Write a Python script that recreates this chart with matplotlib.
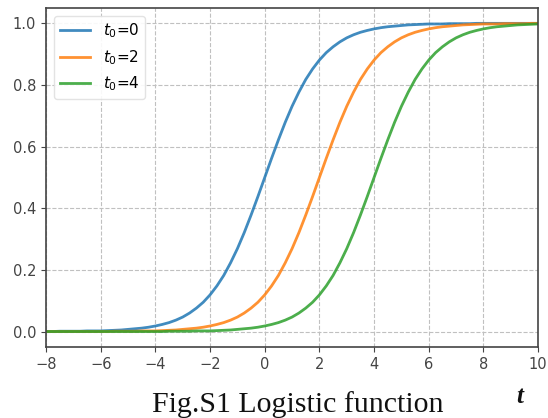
import matplotlib
matplotlib.use("Agg")
import matplotlib.pyplot as plt

t = [-8.0, -7.75, -7.5, -7.25, -7.0, -6.75, -6.5, -6.25,
     -6.0, -5.75, -5.5, -5.25, -5.0, -4.75, -4.5, -4.25,
     -4.0, -3.75, -3.5, -3.25, -3.0, -2.75, -2.5, -2.25,
     -2.0, -1.75, -1.5, -1.25, -1.0, -0.75, -0.5, -0.25,
     0.0, 0.25, 0.5, 0.75, 1.0, 1.25, 1.5, 1.75,
     2.0, 2.25, 2.5, 2.75, 3.0, 3.25, 3.5, 3.75,
     4.0, 4.25, 4.5, 4.75, 5.0, 5.25, 5.5, 5.75,
     6.0, 6.25, 6.5, 6.75, 7.0, 7.25, 7.5, 7.75,
     8.0, 8.25, 8.5, 8.75, 9.0, 9.25, 9.5, 9.75,
     10.0]

y_t0_0 = [0.000, 0.000, 0.001, 0.001, 0.001, 0.001, 0.002, 0.002,
          0.002, 0.003, 0.004, 0.005, 0.007, 0.009, 0.011, 0.014,
          0.018, 0.023, 0.029, 0.037, 0.047, 0.060, 0.076, 0.095,
          0.119, 0.148, 0.182, 0.223, 0.269, 0.321, 0.378, 0.438,
          0.500, 0.562, 0.622, 0.679, 0.731, 0.777, 0.818, 0.852,
          0.881, 0.905, 0.924, 0.940, 0.953, 0.963, 0.971, 0.977,
          0.982, 0.986, 0.989, 0.991, 0.993, 0.995, 0.996, 0.997,
          0.998, 0.998, 0.998, 0.999, 0.999, 0.999, 0.999, 1.000,
          1.000, 1.000, 1.000, 1.000, 1.000, 1.000, 1.000, 1.000,
          1.000]

y_t0_2 = [0.000, 0.000, 0.000, 0.000, 0.000, 0.000, 0.000, 0.000,
          0.000, 0.000, 0.001, 0.001, 0.001, 0.001, 0.002, 0.002,
          0.002, 0.003, 0.004, 0.005, 0.007, 0.009, 0.011, 0.014,
          0.018, 0.023, 0.029, 0.037, 0.047, 0.060, 0.076, 0.095,
          0.119, 0.148, 0.182, 0.223, 0.269, 0.321, 0.378, 0.438,
          0.500, 0.562, 0.622, 0.679, 0.731, 0.777, 0.818, 0.852,
          0.881, 0.905, 0.924, 0.940, 0.953, 0.963, 0.971, 0.977,
          0.982, 0.986, 0.989, 0.991, 0.993, 0.995, 0.996, 0.997,
          0.998, 0.998, 0.998, 0.999, 0.999, 0.999, 0.999, 1.000,
          1.000]

y_t0_4 = [0.000, 0.000, 0.000, 0.000, 0.000, 0.000, 0.000, 0.000,
          0.000, 0.000, 0.000, 0.000, 0.000, 0.000, 0.000, 0.000,
          0.000, 0.000, 0.001, 0.001, 0.001, 0.001, 0.002, 0.002,
          0.002, 0.003, 0.004, 0.005, 0.007, 0.009, 0.011, 0.014,
          0.018, 0.023, 0.029, 0.037, 0.047, 0.060, 0.076, 0.095,
          0.119, 0.148, 0.182, 0.223, 0.269, 0.321, 0.378, 0.438,
          0.500, 0.562, 0.622, 0.679, 0.731, 0.777, 0.818, 0.852,
          0.881, 0.905, 0.924, 0.940, 0.953, 0.963, 0.971, 0.977,
          0.982, 0.986, 0.989, 0.991, 0.993, 0.995, 0.996, 0.997,
          0.998]

labels = [r"$t_0$=0", r"$t_0$=2", r"$t_0$=4"]
colors = ["#1f77b4", "#ff7f0e", "#2ca02c"]
x_ticks = [-8, -6, -4, -2, 0, 2, 4, 6, 8, 10]
y_ticks = [0.0, 0.2, 0.4, 0.6, 0.8, 1.0]

fig = plt.figure(figsize=(5.48, 4.18), dpi=100)
ax = fig.add_axes([0.084, 0.170, 0.898, 0.811])

for ys, lab, c in zip([y_t0_0, y_t0_2, y_t0_4], labels, colors):
    ax.plot(t, ys, color=c, lw=2, label=lab, alpha=0.85)

ax.set_xlim(-8, 10)
ax.set_ylim(-0.05, 1.05)
ax.set_xticks(x_ticks)
ax.set_yticks(y_ticks)
ax.grid(True, linestyle="--", color="#c0c0c0", lw=0.8)
ax.tick_params(labelsize=10.5, colors="#444444", labelcolor="#444444")
for s in ax.spines.values():
    s.set_color("#444444")
    s.set_linewidth(1.2)

leg = ax.legend(loc="upper left", fontsize=11, handlelength=2.0, framealpha=0.9)
leg.get_frame().set_edgecolor("#e0e0e0")

fig.text(0.544, 0.014, "Fig.S1 Logistic function", ha="center", va="baseline",
         fontsize=21.5, family="Liberation Serif", color="#111111")
fig.text(0.949, 0.052, "t", ha="center", va="center", fontsize=18,
         family="Liberation Serif", style="italic", weight="bold", color="#111111")

fig.savefig("out.png", dpi=100)
